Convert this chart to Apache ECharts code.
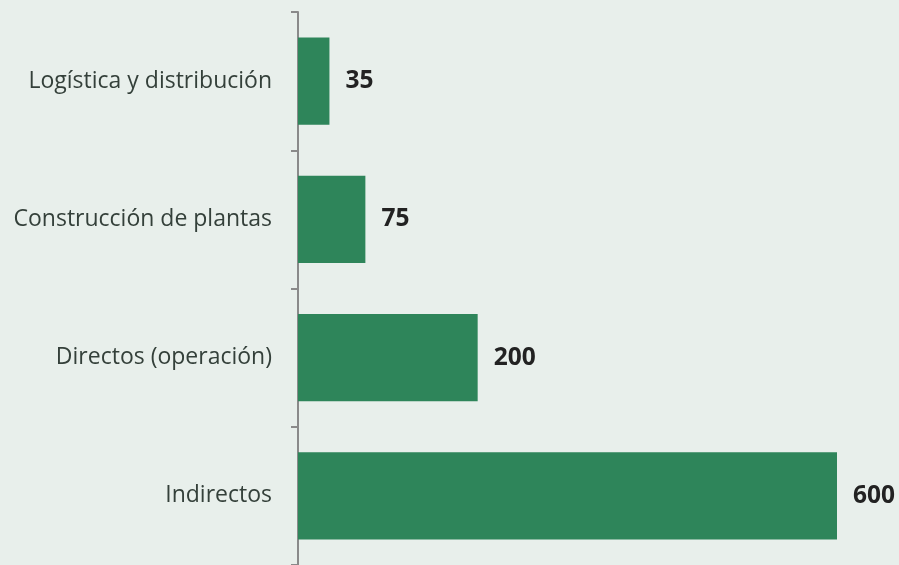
<!DOCTYPE html>
<html><head><meta charset="utf-8">
<script src="https://cdn.jsdelivr.net/npm/echarts@6/dist/echarts.min.js"></script>
<style>html,body{margin:0;padding:0;background:#e8efeb;}#c{width:899px;height:565px;}</style>
</head><body><div id="c"></div>
<script>
const categories = ["Logística y distribución", "Construcción de plantas", "Directos (operación)", "Indirectos"];
const values = [35, 75, 200, 600];

const chart = echarts.init(document.getElementById('c'), null, {renderer: 'canvas'});
chart.setOption({
  backgroundColor: '#e8efeb',
  animation: false,
  grid: {left: 298, right: 62, top: 12, bottom: 0, containLabel: false},
  xAxis: {type: 'value', min: 0, max: 600, show: false},
  yAxis: {
    type: 'category', data: categories, inverse: true, offset: 2,
    axisLine: {show: true, lineStyle: {color: '#8a8a8a', width: 2}},
    axisTick: {show: true, length: 7, lineStyle: {color: '#8a8a8a', width: 2}},
    axisLabel: {margin: 24, fontFamily: 'Open Sans', fontSize: 23, color: '#34403a', padding: [4, 0, 0, 0]},
    splitLine: {show: false}
  },
  series: [{
    type: 'bar', data: values, barCategoryGap: '37%',
    itemStyle: {color: '#2e855a'},
    label: {show: true, position: 'right', distance: 16, fontFamily: 'Open Sans', fontWeight: 'bold', fontSize: 24.5, color: '#222', padding: [4, 0, 0, 0]}
  }]
});
</script></body></html>
